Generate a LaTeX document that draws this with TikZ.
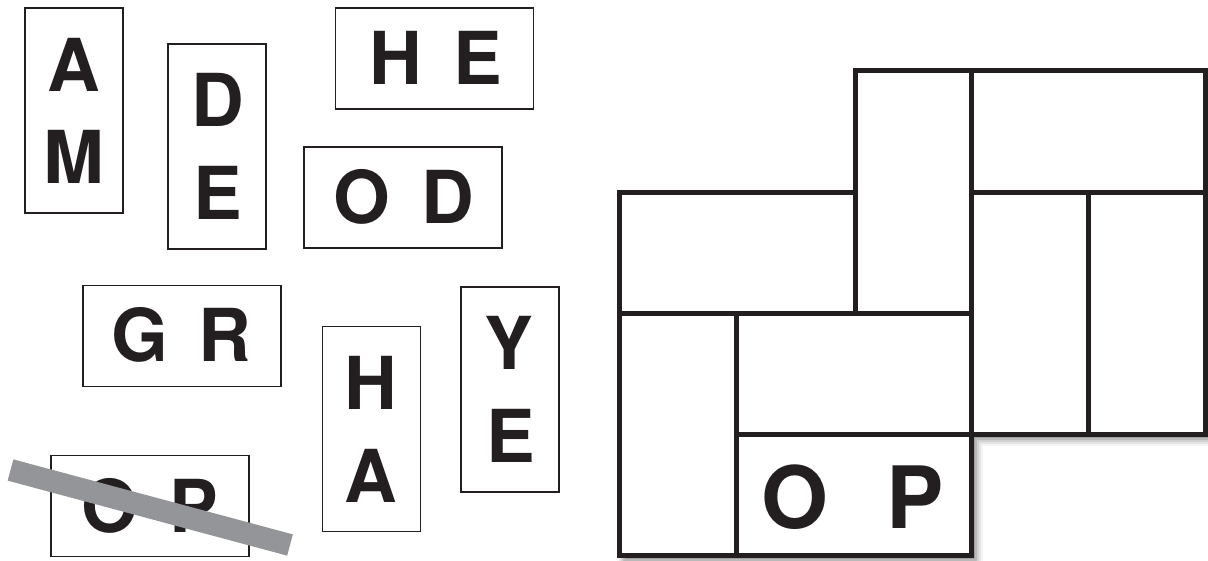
\documentclass[tikz,border=0pt]{standalone}
\usepackage{fontspec}
\setmainfont{TeX Gyre Heros}
\usetikzlibrary{shadows.blur}
\definecolor{tileInk}{HTML}{231F20}
\definecolor{strikeGray}{HTML}{939598}

\begin{document}
\begin{tikzpicture}[
  x=1pt,
  y=-1pt,
  tile/.style={
    draw=tileInk,
    line width=1.6pt,
    fill=white,
    inner sep=0pt
  },
  widetile/.style={tile, minimum width=198pt, minimum height=101pt},
  talltile/.style={tile, minimum width=98pt, minimum height=205pt},
  letter/.style={
    font=\fontsize{73}{73}\selectfont\bfseries,
    text=tileInk,
    inner sep=0pt
  },
  bigletter/.style={letter, font=\fontsize{86}{86}\selectfont\bfseries},
  wall/.style={draw=tileInk, line width=5pt, line join=miter},
  strike/.style={draw=strikeGray, line width=22pt}
]

\path[use as bounding box] (0,0) rectangle (1208,560);

% loose tiles
\node[talltile] (tAM) at (74,110.5) {};
\node[letter] (tAMa) at (74,65) {A};
\node[letter] (tAMb) at (74,157) {M};

\node[talltile] (tDE) at (217,146.5) {};
\node[letter] (tDEa) at (217.5,100) {D};
\node[letter] (tDEb) at (218,193) {E};

\node[widetile] (tHE) at (434.5,58.5) {};
\node[letter] (tHEa) at (396,58) {H};
\node[letter] (tHEb) at (477.5,58) {E};

\node[widetile] (tOD) at (403,197.5) {};
\node[letter] (tODa) at (362,197) {O};
\node[letter] (tODb) at (447.5,197) {D};

\node[widetile] (tGR) at (182,336) {};
\node[letter] (tGRa) at (140,335) {G};
\node[letter] (tGRb) at (225,335) {R};

\node[talltile] (tHA) at (371.5,429) {};
\node[letter] (tHAa) at (371,382.5) {H};
\node[letter] (tHAb) at (371,475.5) {A};

\node[talltile] (tYE) at (510,389.5) {};
\node[letter] (tYEa) at (509,343) {Y};
\node[letter] (tYEb) at (511,435.5) {E};

\node[widetile] (tOP) at (150,506) {};
\node[letter] (tOPa) at (109.5,505.5) {O};
\node[letter] (tOPb) at (194,505.5) {P};

\coordinate (strikeA) at (10.5,470);
\coordinate (strikeB) at (290,545);
\draw[strike] (strikeA) -- (strikeB);

% board
\fill[white, blur shadow={shadow xshift=5pt, shadow yshift=-5pt, shadow blur radius=7pt, shadow opacity=55}]
  (619,192) -- (855,192) -- (855,70) -- (1205,70) -- (1205,434)
  -- (971,434) -- (971,555) -- (619,555) -- cycle;
\draw[wall] (971,70) -- (971,434);
\draw[wall] (971,192) -- (1205,192);
\draw[wall] (1088,192) -- (1088,434);
\draw[wall] (619,313) -- (971,313);
\draw[wall] (855,192) -- (855,313);
\draw[wall] (736,313) -- (736,555);
\draw[wall] (736,434) -- (971,434);
\draw[wall] (619,192) -- (855,192) -- (855,70) -- (1205,70) -- (1205,434)
  -- (971,434) -- (971,555) -- (619,555) -- cycle;

\node[bigletter] (gO) at (795,497) {O};
\node[bigletter] (gP) at (915,497) {P};
\end{tikzpicture}
\end{document}
